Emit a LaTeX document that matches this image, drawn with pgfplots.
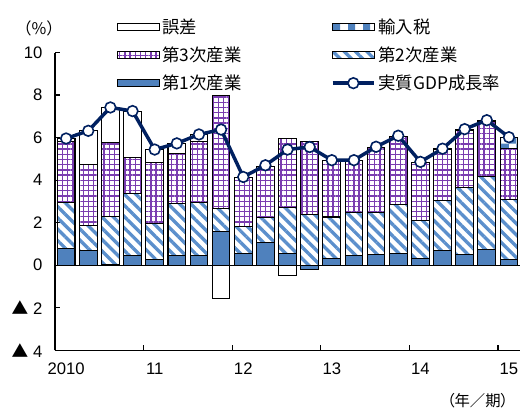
\documentclass[border=0pt]{standalone}
\usepackage{pgfplots}
\pgfplotsset{compat=1.18}
\usepackage{pgfplotstable}
\usepackage{fontspec}
\setmainfont{Liberation Sans}
\newfontfamily\jp{Noto Sans CJK JP}
\newfontfamily\jpp[RawFeature=+palt]{Noto Sans CJK JP}
\usetikzlibrary{patterns,patterns.meta}
\definecolor{c1}{HTML}{4F81BD}
\definecolor{c2}{HTML}{5B8FCC}
\definecolor{c3}{HTML}{7A3DB0}
\definecolor{gdp}{HTML}{002060}

% x: quarter centre; a: primary, b: secondary, c: tertiary, d: import tax, e: error (positive); g: real GDP growth
\pgfplotstableread{
x a b c d e g
0.5 0.79 2.16 2.85 0 0.16 5.96
1.5 0.71 1.17 2.87 0 1.57 6.32
2.5 0.05 2.26 3.46 0 1.65 7.42
3.5 0.44 2.93 1.70 0 2.18 7.25
4.5 0.28 1.68 2.87 0 0.61 5.44
5.5 0.44 2.46 2.35 0 0.48 5.73
6.5 0.45 2.49 2.86 0 0.35 6.15
7.5 1.60 1.07 5.30 0 0 6.38
8.5 0.55 1.25 2.31 0 0 4.15
9.5 1.05 1.19 2.42 0 0 4.70
10.5 0.55 2.16 3.25 0 0 5.44
11.5 0 2.38 3.42 0 0 5.56
12.5 0.31 1.96 2.66 0 0 4.94
13.5 0.47 1.99 2.46 0 0 4.94
14.5 0.50 1.98 3.07 0 0 5.57
15.5 0.55 2.32 3.20 0 0 6.09
16.5 0.31 1.78 2.73 0 0.03 4.86
17.5 0.71 2.32 2.42 0 0.03 5.48
18.5 0.50 3.14 2.71 0 0.03 6.40
19.5 0.75 3.44 2.56 0 0.05 6.82
20.5 0.27 2.82 2.40 0.53 0 6.02
}\pos

\begin{document}
\begin{tikzpicture}
\pgfplotsset{
  base/.style={width=348.4pt, height=223.1pt, scale only axis,
    xmin=0, xmax=21, ymin=-4, ymax=10, at={(0,0)}, anchor=south west, clip=false},
  barst/.style={draw=black, line width=0.8pt},
}
\useasboundingbox (-41.25pt,-44.25pt) rectangle (348.4pt,262.5pt);

% hidden axis: negative bars and legend
\begin{axis}[base, hide axis,
  legend columns=2,
  legend cell align=left,
  legend style={at={(0.1335,1.124)}, anchor=north west, draw=none, fill=none,
    inner sep=0pt, row sep=4.6pt,
    font=\jp\fontsize{13}{15}\selectfont,
    /tikz/every even column/.append style={column sep=65pt}},
]
\addlegendimage{legend image code/.code={\draw[fill=white, draw=black, line width=0.8pt] (0pt,-2.6pt) rectangle (31pt,2.6pt);}}
\addlegendentry{誤差}
\addlegendimage{legend image code/.code={\draw[pattern=checkerboard, pattern color=c1, draw=black, line width=0.8pt] (0pt,-2.6pt) rectangle (31pt,2.6pt);}}
\addlegendentry{輸入税}
\addlegendimage{legend image code/.code={\draw[pattern={Hatch[distance=3.9pt,line width=1pt]}, pattern color=c3, draw=black, line width=0.8pt] (0pt,-2.6pt) rectangle (31pt,2.6pt);}}
\addlegendentry{第3次産業}
\addlegendimage{legend image code/.code={\draw[pattern={Lines[angle=-45,distance=6pt,line width=2.5pt]}, pattern color=c2, draw=black, line width=0.8pt] (0pt,-2.6pt) rectangle (31pt,2.6pt);}}
\addlegendentry{第2次産業}
\addlegendimage{legend image code/.code={\draw[fill=c1, draw=black, line width=0.8pt] (0pt,-2.6pt) rectangle (31pt,2.6pt);}}
\addlegendentry{第1次産業}
\addlegendimage{legend image code/.code={\draw[gdp, line width=2.6pt] (0pt,0pt) -- (31pt,0pt); \draw[fill=white, draw=gdp, line width=1.2pt] (15.5pt,0pt) circle (4pt);}}
\addlegendentry{実質GDP成長率}

\addplot[ybar, bar width=0.8, bar shift=0pt, fill=c1, barst, forget plot] coordinates {(11.5,-0.19)};
\addplot[ybar, bar width=0.8, bar shift=0pt, fill=white, barst, forget plot] coordinates {(7.5,-1.57) (10.5,-0.50)};
\end{axis}

% main axis: stacked positive bars
\begin{axis}[base, ybar stacked, bar width=0.8,
  axis x line*=bottom, axis y line*=left,
  axis line style={line width=1pt},
  tick align=inside, major tick length=4pt,
  tick style={black, line width=1pt},
  xtick={0,4,...,20}, xticklabels={2010,11,12,13,14,15},
  xticklabel style={xshift=8.3pt, yshift=-6pt},
  ytick={-4,-2,...,10},
  yticklabels={{{\jp ▲} 4},{{\jp ▲} 2},0,2,4,6,8,10},
  yticklabel style={xshift=-6pt},
  tick label style={font=\fontsize{12.5}{14}\selectfont},
  extra y ticks={0}, extra y tick labels={},
  extra y tick style={grid=major, major grid style={black, line width=1pt}, major tick length=0pt},
]
\addplot[fill=c1, barst] table[x=x, y=a] {\pos};
\addplot[pattern={Lines[angle=-45,distance=6pt,line width=2.5pt]}, pattern color=c2, barst] table[x=x, y=b] {\pos};
\addplot[pattern={Hatch[distance=3.9pt,line width=1pt]}, pattern color=c3, barst] table[x=x, y=c] {\pos};
\addplot[pattern=checkerboard, pattern color=c1, barst] table[x=x, y=d] {\pos};
\addplot[fill=white, barst] table[x=x, y=e] {\pos};
\node[font=\jp\fontsize{12}{14}\selectfont] at (rel axis cs:-0.0344,1.082) {（\%）};
\node[font=\jpp\fontsize{11.5}{13}\selectfont, anchor=east] at (rel axis cs:0.985,-0.168) {（年／期）};
\end{axis}

% hidden axis: GDP line on top
\begin{axis}[base, hide axis]
\addplot[gdp, line width=2.6pt, mark=*, mark size=4pt,
  mark options={fill=white, draw=gdp, line width=1.2pt}] table[x=x, y=g] {\pos};
\end{axis}
\end{tikzpicture}
\end{document}
